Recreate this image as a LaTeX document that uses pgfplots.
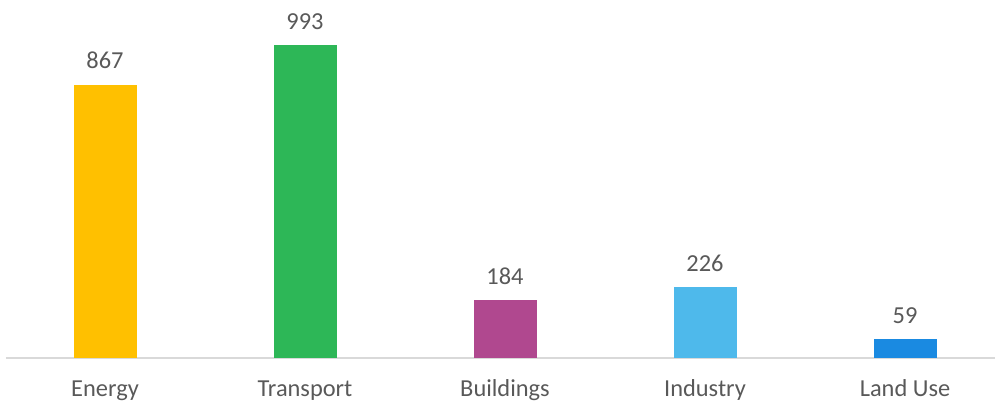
\documentclass[border=0pt]{standalone}
\usepackage{fontspec}
\setmainfont{Carlito}
\usepackage{pgfplots}
\pgfplotsset{compat=1.18}

\definecolor{txtgray}{HTML}{595959}
\definecolor{axgray}{HTML}{D9D9D9}
\definecolor{cEnergy}{HTML}{FFC000}
\definecolor{cTransport}{HTML}{2DB757}
\definecolor{cBuildings}{HTML}{B0488F}
\definecolor{cIndustry}{HTML}{4EB9EB}
\definecolor{cLand}{HTML}{1A8AE1}

\begin{document}
\begin{tikzpicture}
\begin{axis}[
  at={(0,0)}, anchor=south west,
  scale only axis,
  width=741.75pt, height=268.5pt,
  ybar, bar width=47.25pt, bar shift=0pt,
  xmin=-0.495, xmax=4.45,
  ymin=0, ymax=1135.8,
  axis x line*=bottom, axis y line=none,
  x axis line style={draw=axgray, line width=1.1pt, -},
  xtick={0,1,2,3,4},
  xticklabels={Energy, Transport, Buildings, Industry, Land Use},
  major tick length=0pt,
  xticklabel style={font=\fontsize{18.3}{21}\selectfont, text=txtgray,
                    anchor=base, yshift=-29pt},
  /pgf/number format/assume math mode=true,
  nodes near coords,
  nodes near coords style={font=\fontsize{18.3}{21}\selectfont, text=txtgray,
                           anchor=base, yshift=11.8pt},
  clip=false,
]
\addplot[fill=cEnergy, draw=none] coordinates {(0,867)};
\addplot[fill=cTransport, draw=none] coordinates {(1,993)};
\addplot[fill=cBuildings, draw=none] coordinates {(2,184)};
\addplot[fill=cIndustry, draw=none] coordinates {(3,226)};
\addplot[fill=cLand, draw=none] coordinates {(4,59)};
\end{axis}
\pgfresetboundingbox
\path (-4.5pt,-33.75pt) rectangle (741.75pt,268.5pt);
\end{tikzpicture}
\end{document}
